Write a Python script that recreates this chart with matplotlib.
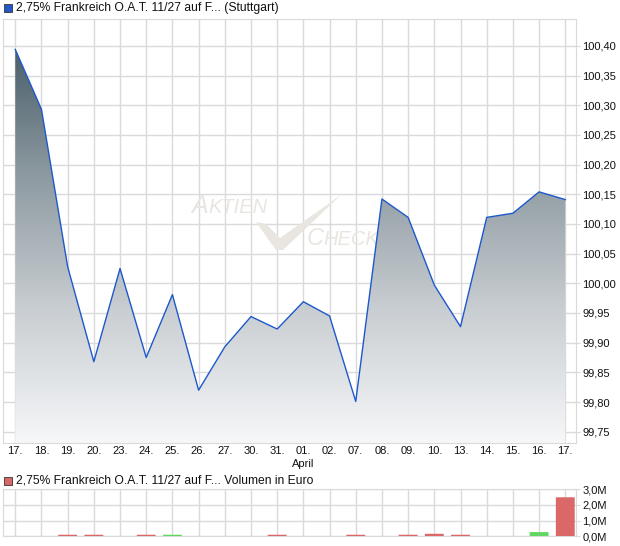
import numpy as np
import matplotlib
matplotlib.use("Agg")
import matplotlib.pyplot as plt
from matplotlib.colors import LinearSegmentedColormap
from matplotlib.patches import Rectangle, PathPatch, Polygon

plt.rcParams['font.family'] = ['Liberation Sans', 'DejaVu Sans']

# ---- data ----
tick_labels = ["17.", "18.", "19.", "20.", "23.", "24.", "25.", "26.", "27.", "30.", "31.",
               "01.", "02.", "07.", "08.", "09.", "10.", "13.", "14.", "15.", "16.", "17."]
prices = [100.394, 100.293, 100.028, 99.868, 100.025, 99.875, 99.981, 99.820, 99.893,
          99.944, 99.923, 99.969, 99.945, 99.801, 100.142, 100.111, 99.997, 99.927,
          100.111, 100.118, 100.154, 100.141]
volumes_m = [0.0, 0.0, 0.1, 0.1, 0.0, 0.1, 0.1, 0.0, 0.0, 0.0, 0.1, 0.0, 0.0,
             0.1, 0.0, 0.1, 0.16, 0.1, 0.0, 0.0, 0.27, 2.49]
y_ticks = [99.75, 99.80, 99.85, 99.90, 99.95, 100.00, 100.05, 100.10, 100.15,
           100.20, 100.25, 100.30, 100.35, 100.40]
vol_ticks = [0, 1, 2, 3]
month_label = "April"
month_index = 11
title_main = "2,75% Frankreich O.A.T. 11/27 auf F... (Stuttgart)"
title_vol = "2,75% Frankreich O.A.T. 11/27 auf F... Volumen in Euro"

x = np.arange(len(prices))
grid_c = "#dadada"
line_c = "#1d58cc"
red_c = "#db6868"
green_c = "#62d862"
wm_c = "#e9e5e0"

W, H = 620, 546
fig = plt.figure(figsize=(6.2, 5.46), dpi=100)
ax = fig.add_axes([0.00435, 0.1886, 0.9247, 0.7775])
axv = fig.add_axes([0.00435, 0.01777, 0.9247, 0.0861])

ylo, yhi = 99.731, 100.446
xlo, xhi = -0.48, 21.41

# gradient fill
cmap = LinearSegmentedColormap.from_list("g", ["#f6f7f9", "#c9ced2", "#8e9ba2", "#495d69"])
grad = np.linspace(0, 1, 256).reshape(-1, 1)
poly = ax.fill_between(x, prices, ylo, color="none", lw=0)
im = ax.imshow(grad, extent=[xlo, xhi, ylo, 100.40], origin="lower", aspect="auto",
               cmap=cmap, zorder=2)
clip = PathPatch(poly.get_paths()[0], transform=ax.transData, facecolor="none", edgecolor="none")
ax.add_patch(clip)
im.set_clip_path(clip)
ax.plot(x, prices, color=line_c, lw=1.0, zorder=3)

# watermark (decoration, positioned in axes fraction)
def px2ax(px, py):
    return ((px - 2.7) / 573.3, (443 - py) / 424.5)

ax.text(*px2ax(191, 213), "A", transform=ax.transAxes, fontsize=18, style="italic",
        color=wm_c, zorder=1.5, ha="left", va="baseline")
ax.text(*px2ax(208, 213), "KTIEN", transform=ax.transAxes, fontsize=14.5, style="italic",
        color=wm_c, zorder=1.5, ha="left", va="baseline")
ax.text(*px2ax(307, 245), "C", transform=ax.transAxes, fontsize=17, style="italic",
        color=wm_c, zorder=1.5, ha="left", va="baseline")
ax.text(*px2ax(323, 245), "HECK", transform=ax.transAxes, fontsize=14.5, style="italic",
        color=wm_c, zorder=1.5, ha="left", va="baseline")
check_px = [(256, 222), (266, 224), (280, 238), (341, 195), (283, 250), (276, 250)]
ax.add_patch(Polygon([px2ax(a, b) for a, b in check_px], closed=True, transform=ax.transAxes,
                     facecolor=wm_c, edgecolor="none", zorder=1.5))

ax.set_xlim(xlo, xhi)
ax.set_ylim(ylo, yhi)
ax.set_yticks(y_ticks)
ax.set_yticklabels([f"{v:.2f}".replace(".", ",") for v in y_ticks])
ax.yaxis.tick_right()
ax.set_xticks(x)
ax.set_xticklabels(tick_labels)
ax.grid(True, color=grid_c, lw=1, zorder=0)
ax.set_axisbelow(True)
ax.tick_params(axis="y", length=3, color=grid_c, labelsize=8, pad=1.5, labelcolor="#111111")
ax.tick_params(axis="x", length=0, labelsize=8, pad=2, labelcolor="#111111")
for s in ax.spines.values():
    s.set_color(grid_c)
ax.text(month_index, -0.038, month_label, transform=ax.get_xaxis_transform(),
        ha="center", va="top", fontsize=8, color="#111111")

# volume
vol_colors = [red_c] + [green_c if prices[i] > prices[i - 1] else red_c for i in range(1, len(prices))]
axv.bar(x, volumes_m, width=0.72, color=vol_colors, zorder=3, snap=False)
axv.set_xlim(xlo, xhi)
axv.set_ylim(0, 3)
axv.set_yticks(vol_ticks)
axv.set_yticklabels([f"{v},0M" for v in vol_ticks])
axv.yaxis.tick_right()
axv.set_xticks(x)
axv.set_xticklabels([])
axv.grid(True, color=grid_c, lw=1, zorder=0)
axv.set_axisbelow(True)
axv.tick_params(axis="y", length=3, color=grid_c, labelsize=8, pad=1.5, labelcolor="#111111")
axv.tick_params(axis="x", length=0)
for s in axv.spines.values():
    s.set_color(grid_c)
    s.set_zorder(1)

# titles
fig.patches.append(Rectangle((4 / W, 1 - 12 / H), 8 / W, 8 / H, transform=fig.transFigure,
                             facecolor="#2458c8", edgecolor="#333333", lw=0.6))
fig.text(16 / W, 1 - 7.5 / H, title_main, ha="left", va="center", fontsize=8.7, color="#111111")
fig.patches.append(Rectangle((4 / W, 1 - 485 / H), 8 / W, 8 / H, transform=fig.transFigure,
                             facecolor=red_c, edgecolor="#333333", lw=0.6))
fig.text(16 / W, 1 - 480.5 / H, title_vol, ha="left", va="center", fontsize=8.7, color="#111111")

fig.savefig("out.png", dpi=100)
